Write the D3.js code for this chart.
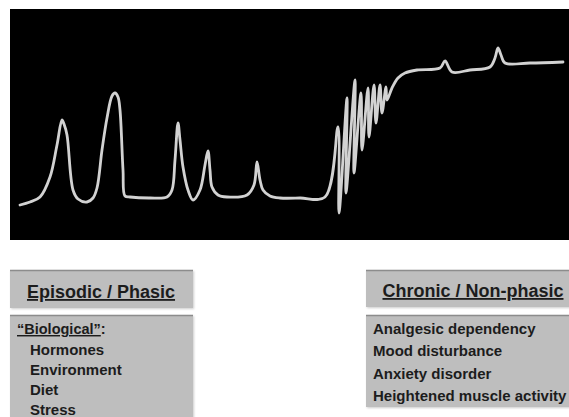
<!DOCTYPE html>
<html>
<head>
<meta charset="utf-8">
<script src="https://cdn.jsdelivr.net/npm/d3@7"></script>
<style>
  body { margin: 0; background: #fff; }
  text { font-family: 'Liberation Sans', Arial, sans-serif; font-weight: bold; fill: #1c1c1c; }
</style>
</head>
<body>
<div class="svg-container"></div>
<script>
// pain trace: time (arbitrary units) and pain level
const timeValues = [9, 19, 29, 39, 46, 51, 53, 56, 62, 67, 76, 82, 86, 91, 96, 101, 104, 107, 109, 112, 114, 119,
  139, 156, 161, 164, 167, 169, 172, 177, 182, 189, 194, 197, 199, 201, 207, 216, 236, 243, 246, 249, 252, 259,
  269, 289, 314, 327, 328, 336, 335, 344, 343, 350, 351, 357, 358, 363, 365, 369, 371, 375, 376, 381, 387, 394,
  406, 429, 434, 441, 459, 479, 484, 487, 490, 494, 519, 552]
const painLevels = [35, 38, 43, 63, 95, 120, 116, 105, 50, 41, 38, 42, 52, 90, 122, 144, 147, 143, 130, 70, 44, 43,
  42, 43, 50, 80, 117, 100, 73, 50, 40, 50, 75, 89, 70, 53, 45, 43, 45, 55, 78, 60, 50, 44,
  42, 42, 43, 113, 27, 142, 47, 160, 67, 147, 90, 152, 103, 155, 117, 155, 127, 153, 140, 152, 162, 167,
  170, 172, 179, 168, 170, 173, 182, 192, 185, 177, 177, 178]

const leftTitle = 'Episodic / Phasic'
const leftGroup = 'Biological'
const leftItems = ['Hormones', 'Environment', 'Diet', 'Stress']
const rightTitle = 'Chronic / Non-phasic'
const rightItems = ['Analgesic dependency', 'Mood disturbance', 'Anxiety disorder', 'Heightened muscle activity']

const width = 569
const height = 417

const svg = d3.select('.svg-container')
  .append('svg')
  .attr('width', width)
  .attr('height', height)

const defs = svg.append('defs')
defs.append('filter')
  .attr('id', 'soft')
  .append('feGaussianBlur')
  .attr('stdDeviation', 0.6)
defs.append('filter')
  .attr('id', 'shadow')
  .attr('x', '-5%').attr('y', '-10%').attr('width', '115%').attr('height', '130%')
  .append('feDropShadow')
  .attr('dx', 1).attr('dy', 1).attr('stdDeviation', 1)
  .attr('flood-color', '#000').attr('flood-opacity', 0.2)

// plot panel
svg.append('rect')
  .attr('x', 10).attr('y', 9)
  .attr('width', width - 10).attr('height', 231)
  .attr('fill', '#000')

const xScale = d3.scaleLinear([0, 558], [11, 569])
const yScale = d3.scaleLinear([0, 230], [240, 10])

const points = timeValues.map((t, i) => [t, painLevels[i]])

const line = d3.line()
  .x((d) => xScale(d[0]))
  .y((d) => yScale(d[1]))
  .curve(d3.curveCatmullRom.alpha(0.5))

svg.append('path')
  .datum(points)
  .attr('d', line)
  .attr('fill', 'none')
  .attr('stroke', '#d2d2d2')
  .attr('stroke-width', 2.8)
  .attr('stroke-linejoin', 'round')
  .attr('stroke-linecap', 'round')
  .attr('filter', 'url(#soft)')

// boxes
function box(x, y, w, h) {
  const g = svg.append('g')
  g.append('rect')
    .attr('x', x).attr('y', y)
    .attr('width', w).attr('height', h)
    .attr('fill', '#bebebe')
    .attr('filter', 'url(#shadow)')
  g.append('line')
    .attr('x1', x).attr('x2', x + w)
    .attr('y1', y + 0.5).attr('y2', y + 0.5)
    .attr('stroke', '#8c8c8c')
    .attr('stroke-width', 1.5)
  return g
}

box(10, 270, 183, 38)
box(10, 315, 183, 110)
box(366, 270, 210, 37)
box(366, 315, 210, 92)

svg.append('text')
  .attr('x', 101).attr('y', 298)
  .attr('text-anchor', 'middle')
  .style('font-size', '18px')
  .style('text-decoration', 'underline')
  .text(leftTitle)

svg.append('text')
  .attr('x', 473).attr('y', 297)
  .attr('text-anchor', 'middle')
  .style('font-size', '18px')
  .style('text-decoration', 'underline')
  .text(rightTitle)

const group = svg.append('text')
  .attr('x', 17).attr('y', 334)
  .style('font-size', '14.5px')
group.append('tspan')
  .style('text-decoration', 'underline')
  .text('\u201c' + leftGroup + '\u201d')
group.append('tspan').text(':')

svg.selectAll('.left-item')
  .data(leftItems)
  .join('text')
  .attr('class', 'left-item')
  .attr('x', 30)
  .attr('y', (d, i) => 355 + i * 20)
  .style('font-size', '15px')
  .text((d) => d)

svg.selectAll('.right-item')
  .data(rightItems)
  .join('text')
  .attr('class', 'right-item')
  .attr('x', 373)
  .attr('y', (d, i) => 334 + i * 22.3)
  .style('font-size', '15px')
  .text((d) => d)
</script>
</body>
</html>
